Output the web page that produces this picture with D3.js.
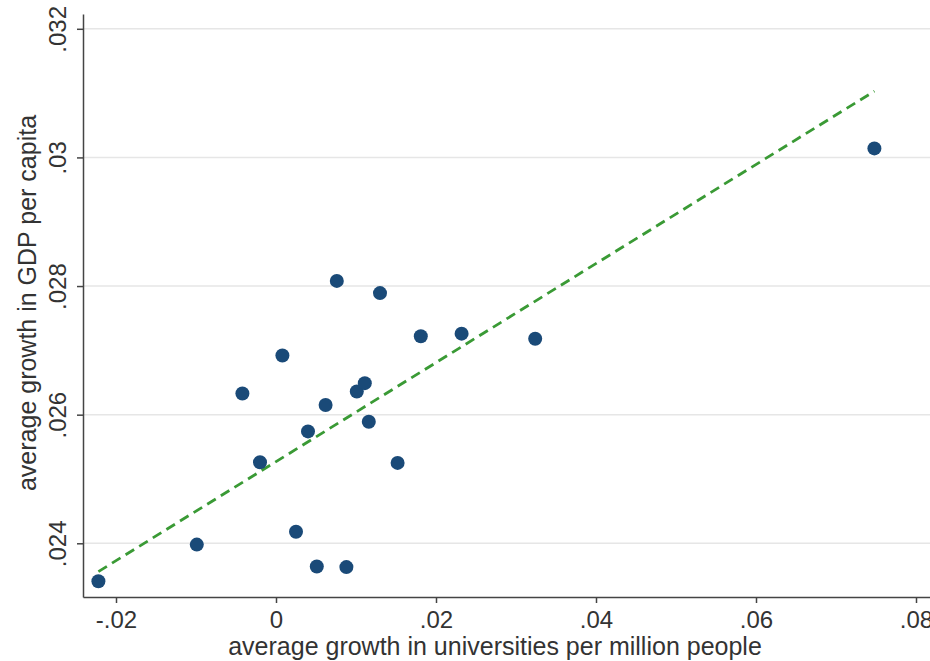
<!DOCTYPE html>
<html>
<head>
<meta charset="utf-8">
<script src="https://cdn.jsdelivr.net/npm/d3@7"></script>
<style>
  body { margin: 0; background: #fff; }
  text { font-family: "Liberation Sans", Arial, sans-serif; fill: #333; }
</style>
</head>
<body>
<svg id="chart" width="930" height="661"></svg>
<script>
// scatter points: growth in universities per million (x) vs GDP per capita growth (y)
const uniGrowth = [-0.0222, -0.0099, -0.0042, -0.0020, 0.0008, 0.0025, 0.0040, 0.0051, 0.0062, 0.0076,
  0.0088, 0.0101, 0.0111, 0.0116, 0.0130, 0.0152, 0.0181, 0.0232, 0.0324, 0.0748];
const gdpGrowth = [0.02341, 0.02398, 0.02633, 0.02526, 0.02692, 0.02418, 0.02574, 0.02364, 0.02615, 0.02808,
  0.02363, 0.02636, 0.02649, 0.02589, 0.02789, 0.02525, 0.02722, 0.02726, 0.02718, 0.03014];

// fitted line end points
const fitX = [-0.0222, 0.0748];
const fitY = [0.02356, 0.03103];

const xTicks = [-0.02, 0, 0.02, 0.04, 0.06, 0.08];
const xTickLabels = ["-.02", "0", ".02", ".04", ".06", ".08"];
const yTicks = [0.024, 0.026, 0.028, 0.03, 0.032];
const yTickLabels = [".024", ".026", ".028", ".03", ".032"];

const plotLeft = 83, plotRight = 930, plotTop = 14, plotBottom = 597;

const svg = d3.select("#chart");

const x = d3.scaleLinear().domain([-0.024125, 0.08175]).range([plotLeft, plotRight]);
const y = d3.scaleLinear().domain([0.023165, 0.03223]).range([plotBottom, plotTop]);

// gridlines
svg.append("g")
  .selectAll("line")
  .data(yTicks)
  .enter()
  .append("line")
  .attr("x1", plotLeft)
  .attr("x2", plotRight)
  .attr("y1", (d) => y(d))
  .attr("y2", (d) => y(d))
  .attr("stroke", "#e6e6e6")
  .attr("stroke-width", 1.5);

// y axis
const yAxis = svg.append("g")
  .attr("transform", `translate(${plotLeft},0)`)
  .call(d3.axisLeft(y).tickValues(yTicks).tickSize(6).tickSizeOuter(0)
    .tickFormat((d, i) => yTickLabels[i]));
yAxis.select(".domain").attr("stroke", "#444").attr("stroke-width", 1.5);
yAxis.selectAll(".tick line").attr("stroke", "#444").attr("stroke-width", 1.5);
yAxis.selectAll(".tick text")
  .attr("transform", "rotate(-90)")
  .attr("x", 0)
  .attr("y", -17)
  .attr("dy", 0)
  .style("text-anchor", "middle")
  .style("font-size", "24px")
  .style("fill", "#333");

// x axis
const xAxis = svg.append("g")
  .attr("transform", `translate(0,${plotBottom})`)
  .call(d3.axisBottom(x).tickValues(xTicks).tickSize(6).tickSizeOuter(0)
    .tickFormat((d, i) => xTickLabels[i]));
xAxis.select(".domain").attr("stroke", "#444").attr("stroke-width", 1.5);
xAxis.selectAll(".tick line").attr("stroke", "#444").attr("stroke-width", 1.5);
xAxis.selectAll(".tick text")
  .attr("y", 31)
  .attr("dy", 0)
  .style("font-size", "24px")
  .style("fill", "#333");

// axis titles
svg.append("text")
  .attr("x", 495)
  .attr("y", 655)
  .attr("text-anchor", "middle")
  .style("font-size", "25px")
  .text("average growth in universities per million people");

svg.append("text")
  .attr("transform", "rotate(-90)")
  .attr("x", -303)
  .attr("y", 36)
  .attr("text-anchor", "middle")
  .style("font-size", "25px")
  .text("average growth in GDP per capita");

// fitted line
svg.append("line")
  .attr("x1", x(fitX[0]))
  .attr("y1", y(fitY[0]))
  .attr("x2", x(fitX[1]))
  .attr("y2", y(fitY[1]))
  .attr("stroke", "#3a9a35")
  .attr("stroke-width", 2.8)
  .attr("stroke-dasharray", "10,6");

// points
svg.append("g")
  .selectAll("circle")
  .data(uniGrowth.map((d, i) => [d, gdpGrowth[i]]))
  .enter()
  .append("circle")
  .attr("cx", (d) => x(d[0]))
  .attr("cy", (d) => y(d[1]))
  .attr("r", 7)
  .attr("fill", "#1a4a78");
</script>
</body>
</html>
